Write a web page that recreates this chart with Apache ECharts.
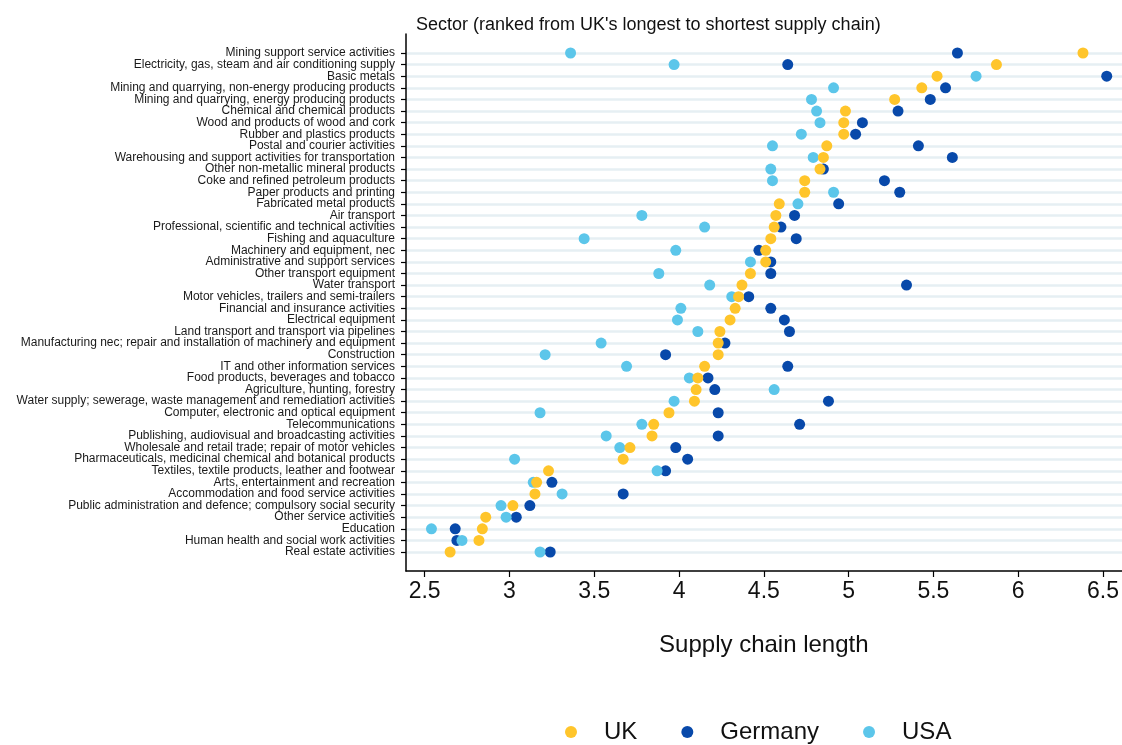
<!DOCTYPE html>
<html>
<head>
<meta charset="utf-8">
<script src="https://cdn.jsdelivr.net/npm/echarts@6/dist/echarts.min.js"></script>
<style>
html,body{margin:0;padding:0;background:#fff;}
#chart{width:1122px;height:745px;}
</style>
</head>
<body>
<div id="chart"></div>
<script>
const categories = [
  "Mining support service activities",
  "Electricity, gas, steam and air conditioning supply",
  "Basic metals",
  "Mining and quarrying, non-energy producing products",
  "Mining and quarrying, energy producing products",
  "Chemical and chemical products",
  "Wood and products of wood and cork",
  "Rubber and plastics products",
  "Postal and courier activities",
  "Warehousing and support activities for transportation",
  "Other non-metallic mineral products",
  "Coke and refined petroleum products",
  "Paper products and printing",
  "Fabricated metal products",
  "Air transport",
  "Professional, scientific and technical activities",
  "Fishing and aquaculture",
  "Machinery and equipment, nec",
  "Administrative and support services",
  "Other transport equipment",
  "Water transport",
  "Motor vehicles, trailers and semi-trailers",
  "Financial and insurance activities",
  "Electrical equipment",
  "Land transport and transport via pipelines",
  "Manufacturing nec; repair and installation of machinery and equipment",
  "Construction",
  "IT and other information services",
  "Food products, beverages and tobacco",
  "Agriculture, hunting, forestry",
  "Water supply; sewerage, waste management and remediation activities",
  "Computer, electronic and optical equipment",
  "Telecommunications",
  "Publishing, audiovisual and broadcasting activities",
  "Wholesale and retail trade; repair of motor vehicles",
  "Pharmaceuticals, medicinal chemical and botanical products",
  "Textiles, textile products, leather and footwear",
  "Arts, entertainment and recreation",
  "Accommodation and food service activities",
  "Public administration and defence; compulsory social security",
  "Other service activities",
  "Education",
  "Human health and social work activities",
  "Real estate activities"
];
const ukValues = [6.38,5.87,5.52,5.43,5.27,4.98,4.97,4.97,4.87,4.85,4.83,4.74,4.74,4.59,4.57,4.56,4.54,4.51,4.51,4.42,4.37,4.35,4.33,4.30,4.24,4.23,4.23,4.15,4.11,4.10,4.09,3.94,3.85,3.84,3.71,3.67,3.23,3.16,3.15,3.02,2.86,2.84,2.82,2.65];
const germanyValues = [5.64,4.64,6.52,5.57,5.48,5.29,5.08,5.04,5.41,5.61,4.85,5.21,5.30,4.94,4.68,4.60,4.69,4.47,4.54,4.54,5.34,4.41,4.54,4.62,4.65,4.27,3.92,4.64,4.17,4.21,4.88,4.23,4.71,4.23,3.98,4.05,3.92,3.25,3.67,3.12,3.04,2.68,2.69,3.24];
const usaValues = [3.36,3.97,5.75,4.91,4.78,4.81,4.83,4.72,4.55,4.79,4.54,4.55,4.91,4.70,3.78,4.15,3.44,3.98,4.42,3.88,4.18,4.31,4.01,3.99,4.11,3.54,3.21,3.69,4.06,4.56,3.97,3.18,3.78,3.57,3.65,3.03,3.87,3.14,3.31,2.95,2.98,2.54,2.72,3.18];
const seriesNames = ["UK","Germany","USA"];

const colors = {UK:"#FFC52B", Germany:"#0849AA", USA:"#5CC6EA"};
const font = "'Liberation Sans', Arial, Helvetica, sans-serif";
const xMin = 2.39, xMax = 6.61;

function pts(vals){ return vals.map((v,i)=>[v, categories[i]]); }

const chart = echarts.init(document.getElementById('chart'), null, {renderer:'canvas'});
const option = {
  animation:false,
  backgroundColor:'#fff',
  textStyle:{fontFamily:font},
  title:{
    text:"Sector (ranked from UK's longest to shortest supply chain)",
    left:411, top:11,
    textStyle:{fontFamily:font,fontSize:18,fontWeight:'normal',color:'#111'}
  },
  legend:{
    data:seriesNames,
    top:720,
    left:565,
    padding:0,
    icon:'circle',
    itemWidth:12, itemHeight:12,
    itemGap:44,
    textStyle:{fontFamily:font,fontSize:24,color:'#111',padding:[0,0,0,22]}
  },
  grid:[
    {left:406, right:0, top:53, bottom:193, containLabel:false},
    {left:406, right:0, top:34, bottom:174, containLabel:false}
  ],
  xAxis:[
    {type:'value', gridIndex:0, min:xMin, max:xMax, show:false, splitLine:{show:false}},
    {type:'value', gridIndex:1, min:xMin, max:xMax, splitNumber:8,
     axisLine:{show:true,lineStyle:{color:'#000',width:1.5}},
     axisTick:{show:true,length:6,lineStyle:{color:'#000',width:1.2}},
     axisLabel:{fontFamily:font,fontSize:23,color:'#111',margin:9,showMinLabel:false,showMaxLabel:false},
     splitLine:{show:false},
     name:'Supply chain length', nameLocation:'middle', nameGap:62,
     nameTextStyle:{fontFamily:font,fontSize:24,color:'#111'}}
  ],
  yAxis:[
    {type:'category', gridIndex:0, data:categories, inverse:true, boundaryGap:false,
     axisLine:{show:false},
     axisTick:{show:true,length:5,alignWithLabel:true,lineStyle:{color:'#000',width:1.2}},
     axisLabel:{fontFamily:font,fontSize:12,color:'#1a1a1a',margin:11,interval:0},
     splitLine:{show:true,interval:0,lineStyle:{color:'#E6EFF3',width:2.5}}},
    {type:'value', gridIndex:1, min:0, max:1,
     axisLine:{show:true,lineStyle:{color:'#000',width:1.5}},
     axisTick:{show:false}, axisLabel:{show:false}, splitLine:{show:false}}
  ],
  series:[
    {name:'Germany', type:'scatter', xAxisIndex:0, yAxisIndex:0, symbolSize:11,
     itemStyle:{color:colors.Germany,opacity:1}, data:pts(germanyValues), z:2},
    {name:'USA', type:'scatter', xAxisIndex:0, yAxisIndex:0, symbolSize:11,
     itemStyle:{color:colors.USA,opacity:1}, data:pts(usaValues), z:3},
    {name:'UK', type:'scatter', xAxisIndex:0, yAxisIndex:0, symbolSize:11,
     itemStyle:{color:colors.UK,opacity:1}, data:pts(ukValues), z:4}
  ]
};
chart.setOption(option);
</script>
</body>
</html>
